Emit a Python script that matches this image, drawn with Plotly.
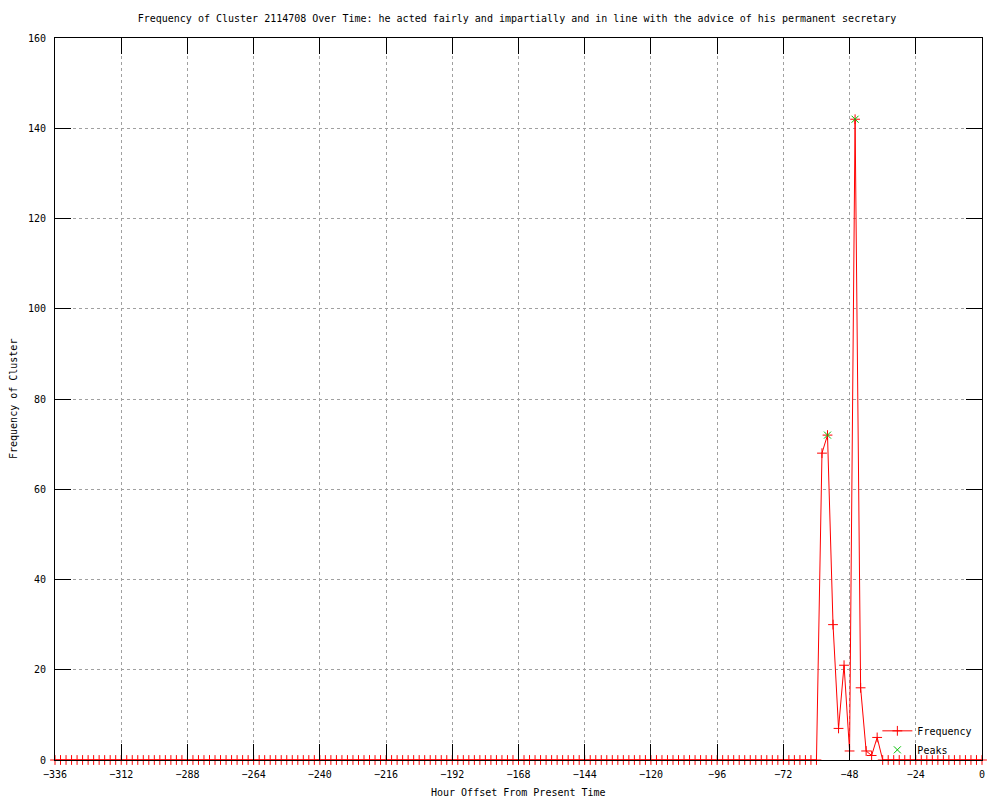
import plotly.graph_objects as go

# Hour offsets (every 2 hours) and cluster frequency
hours = list(range(-336, 1, 2))
freq = ([0] * 138 +
        [0, 68, 72, 30, 7, 21, 2, 142, 16, 2, 1, 5, 0] +
        [0] * 18)

peak_hours = [-56, -46]
peak_values = [72, 142]

x_ticks = list(range(-336, 1, 24))
y_ticks = list(range(0, 161, 20))

title_text = ("Frequency of Cluster 2114708 Over Time: he acted fairly and impartially "
              "and in line with the advice of his permanent secretary")

FONT = "DejaVu Sans Mono"

fig = go.Figure()
fig.add_trace(go.Scatter(
    x=hours, y=freq, mode="lines+markers", name="Frequency",
    line=dict(color="#ff0000", width=1),
    marker=dict(symbol="cross-thin", size=7, line=dict(color="#ff0000", width=1)),
    cliponaxis=False,
))
fig.add_trace(go.Scatter(
    x=peak_hours, y=peak_values, mode="markers", name="Peaks",
    marker=dict(symbol="x-thin", size=7, line=dict(color="#00c000", width=1)),
    cliponaxis=False,
))

axis_common = dict(
    showgrid=True, gridcolor="#a0a0a0", griddash="dot", gridwidth=1,
    ticks="inside", ticklen=16, tickcolor="black", tickwidth=1,
    showline=True, linecolor="black", linewidth=1, mirror="ticks",
    zeroline=False, automargin=False,
    tickfont=dict(family=FONT, size=10, color="black"),
)

W, H = 992, 792  # page body has an 8px margin

fig.update_layout(
    width=W, height=H,
    margin=dict(l=47, r=18, t=30, b=40),
    paper_bgcolor="white", plot_bgcolor="white",
    title=dict(text=title_text, x=509 / W, xanchor="center", y=1 - 10 / H,
               yanchor="middle", yref="container", automargin=False,
               font=dict(family=FONT, size=10, color="black")),
    xaxis=dict(range=[-336, 0], tickvals=x_ticks, ticklabelstandoff=5, **axis_common),
    yaxis=dict(range=[0, 160], tickvals=y_ticks, ticklabelstandoff=6, **axis_common),
    legend=dict(x=0.995, xanchor="right", y=-0.006, yanchor="bottom",
                bgcolor="rgba(0,0,0,0)", font=dict(family=FONT, size=10, color="black"),
                itemwidth=30, tracegroupgap=0),
    showlegend=True,
    annotations=[
        dict(text="Hour Offset From Present Time", xref="paper", yref="paper",
             x=0.5, y=-32 / 722, xanchor="center", yanchor="middle", showarrow=False,
             font=dict(family=FONT, size=10, color="black")),
        dict(text="Frequency of Cluster", xref="paper", yref="paper",
             x=-42 / 927, y=0.5, xanchor="center", yanchor="middle", showarrow=False,
             textangle=-90, font=dict(family=FONT, size=10, color="black")),
    ],
)

fig.write_html("out.html")
